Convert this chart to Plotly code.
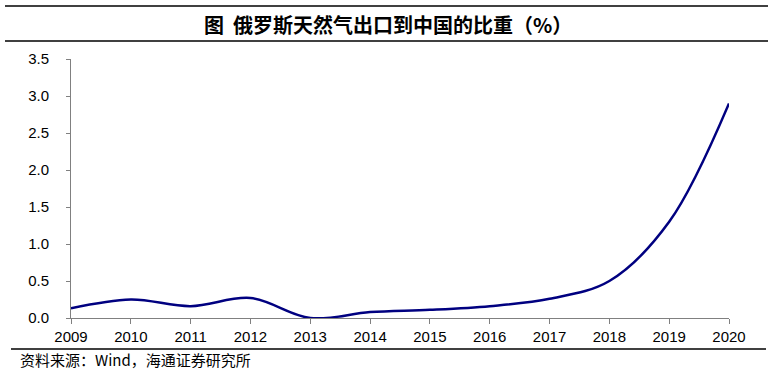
import plotly.graph_objects as go

years = [2009, 2010, 2011, 2012, 2013, 2014, 2015, 2016, 2017, 2018, 2019, 2020]
share = [0.13, 0.25, 0.16, 0.27, 0.0, 0.08, 0.11, 0.16, 0.26, 0.50, 1.30, 2.90]
y_ticks = [0, 0.5, 1.0, 1.5, 2.0, 2.5, 3.0, 3.5]
title_text = "图  俄罗斯天然气出口到中国的比重（%）"
source_text = "资料来源：Wind，海通证券研究所"

W, H = 775, 374
PL, PR, PT, PB = 71, 729, 59, 318  # plot area in pixels

# decorative horizontal rules (page pixels): y, x-start, x-end
rule_y = [6, 41, 349]
rule_x0 = [5, 5, 11]
rule_x1 = [768, 768, 766]


def px(x):
    return x / W


def py(y):
    return (H - y) / H


rx, ry = [], []
for a, b, y in zip(rule_x0, rule_x1, rule_y):
    rx += [a, b, None]
    ry += [y, y, None]

fig = go.Figure()
fig.add_trace(go.Scatter(
    x=years, y=share, mode="lines",
    line=dict(color="#000080", width=2.5, shape="spline", smoothing=1.0),
    hoverinfo="x+y", showlegend=False,
))
fig.add_trace(go.Scatter(
    x=rx, y=ry, xaxis="x2", yaxis="y2", mode="lines",
    line=dict(color="black", width=1.5), hoverinfo="skip", showlegend=False,
    cliponaxis=False,
))

axis_font = dict(family="Liberation Sans, Arial, sans-serif", size=15, color="#000000")
fig.update_layout(
    width=W, height=H,
    margin=dict(l=0, r=0, t=0, b=0),
    paper_bgcolor="white", plot_bgcolor="rgba(0,0,0,0)",
    xaxis=dict(
        domain=[px(PL), px(PR)],
        range=[2009, 2020], tickvals=years, ticktext=[str(y) for y in years],
        showgrid=False, zeroline=False, showline=True, linecolor="#808080", linewidth=1,
        ticks="outside", ticklen=5, tickcolor="#808080", tickfont=axis_font,
        automargin=False,
    ),
    yaxis=dict(
        domain=[py(PB), py(PT)],
        range=[0, 3.5], tickvals=y_ticks, ticktext=[f"{v:.1f}" for v in y_ticks],
        showgrid=False, zeroline=False, showline=True, linecolor="#808080", linewidth=1,
        ticks="outside", ticklen=4, tickcolor="#808080", tickfont=axis_font,
        ticklabelstandoff=14, automargin=False,
    ),
    xaxis2=dict(domain=[0, 1], range=[0, W], anchor="y2", visible=False, fixedrange=True),
    yaxis2=dict(domain=[0, 1], range=[H, 0], anchor="x2", visible=False, fixedrange=True),
    annotations=[
        dict(text="<b>" + title_text + "</b>", xref="paper", yref="paper",
             x=px(388), y=py(24), xanchor="center", yanchor="middle",
             showarrow=False, font=dict(family="Noto Sans CJK SC", size=20, color="black")),
        dict(text=source_text, xref="paper", yref="paper",
             x=px(18), y=py(359), xanchor="left", yanchor="middle",
             showarrow=False, font=dict(family="Noto Sans CJK SC, Liberation Sans", size=15, color="black")),
    ],
)

fig.write_html("out.html", config={"displayModeBar": False},
               post_script="document.body.style.margin='0';")
